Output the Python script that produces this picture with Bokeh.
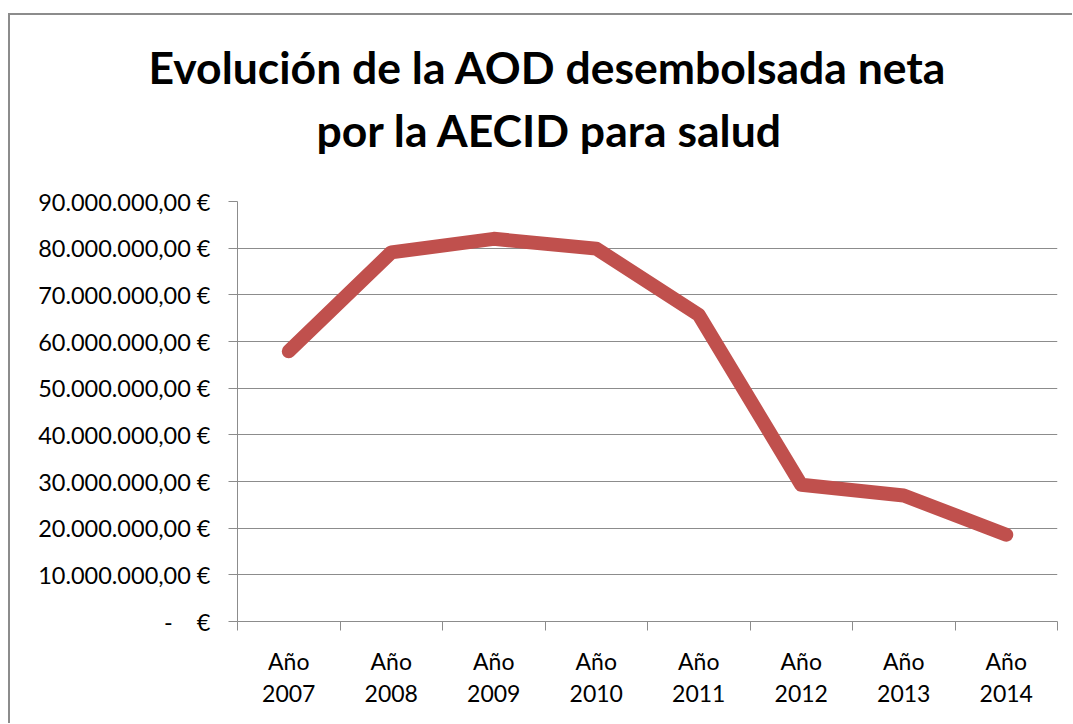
from bokeh.plotting import figure
from bokeh.models import FixedTicker, CustomJSTickFormatter, Range1d, Title
from bokeh.layouts import column
from bokeh.embed import file_html
from bokeh.resources import INLINE

years = ["Año 2007", "Año 2008", "Año 2009", "Año 2010", "Año 2011", "Año 2012", "Año 2013", "Año 2014"]
values = [57_900_000, 79_100_000, 82_000_000, 79_900_000, 65_700_000, 29_300_000, 27_000_000, 18_600_000]
y_ticks = [0, 10_000_000, 20_000_000, 30_000_000, 40_000_000, 50_000_000, 60_000_000, 70_000_000, 80_000_000, 90_000_000]
y_labels = ["-\u00a0\u00a0\u00a0\u00a0€", "10.000.000,00 €", "20.000.000,00 €", "30.000.000,00 €", "40.000.000,00 €",
            "50.000.000,00 €", "60.000.000,00 €", "70.000.000,00 €", "80.000.000,00 €", "90.000.000,00 €"]
title_lines = ["Evolución de la AOD desembolsada neta", "por la AECID para salud"]

FONT = "Lato"
GRID = "#8c8c8c"

n = len(years)
xs = [i + 0.5 for i in range(n)]

p = figure(width=1062, height=708, output_backend="svg", toolbar_location=None,
           x_range=Range1d(0, n), y_range=Range1d(0, 90_000_000),
           min_border_left=227, min_border_right=15, min_border_top=186, min_border_bottom=102)
p.background_fill_color = "white"
p.border_fill_color = "white"
p.outline_line_color = None

p.line(xs, values, line_color="#C0504D", line_width=14, line_join="round", line_cap="round")

# y axis
p.yaxis.ticker = FixedTicker(ticks=y_ticks, minor_ticks=[])
p.yaxis.formatter = CustomJSTickFormatter(args=dict(tv=y_ticks, lab=y_labels), code="""
    const i = tv.indexOf(tick);
    return i >= 0 ? lab[i] : "";
""")
p.yaxis.axis_line_color = GRID
p.yaxis.major_tick_line_color = GRID
p.yaxis.major_tick_out = 9
p.yaxis.major_tick_in = 0
p.yaxis.major_label_standoff = 18
p.yaxis.major_label_text_font = FONT
p.yaxis.major_label_text_font_size = "23.5px"
p.yaxis.major_label_text_color = "#000000"

# x axis: labels at centers, ticks at boundaries
p.xaxis.ticker = FixedTicker(ticks=xs, minor_ticks=list(range(n + 1)))
p.xaxis.formatter = CustomJSTickFormatter(args=dict(lab=[y.replace(" ", "\n") for y in years]), code="""
    const i = Math.round(tick - 0.5);
    return (i >= 0 && i < lab.length) ? lab[i] : "";
""")
p.xaxis.axis_line_color = GRID
p.xaxis.major_tick_line_color = None
p.xaxis.major_tick_out = 9
p.xaxis.minor_tick_line_color = GRID
p.xaxis.minor_tick_out = 9
p.xaxis.minor_tick_in = 0
p.xaxis.major_label_standoff = 16
p.xaxis.major_label_text_font = FONT
p.xaxis.major_label_text_font_size = "23px"
p.xaxis.major_label_text_color = "#000000"
p.xaxis.major_label_text_line_height = 1.15

p.xgrid.visible = False
p.ygrid.ticker = FixedTicker(ticks=y_ticks)
p.ygrid.grid_line_color = GRID
p.ygrid.grid_line_width = 1

# spacer between title and plot area
p.add_layout(Title(text=" ", text_font=FONT, text_font_size="30px", standoff=0), "above")

offsets = [-89, 79]
standoffs = [0, 16]
for line, off, so in reversed(list(zip(title_lines, offsets, standoffs))):
    t = Title(text=line, align="left", text_font=FONT, text_font_size="44.5px",
              text_font_style="bold", text_color="#000000", offset=off, standoff=so)
    p.add_layout(t, "above")

layout = column(p, margin=(13, 0, 0, 8),
                styles={"border-top": "2px solid #8c8c8c", "border-left": "2px solid #8c8c8c"})

open("out.html", "w").write(file_html(layout, INLINE))
